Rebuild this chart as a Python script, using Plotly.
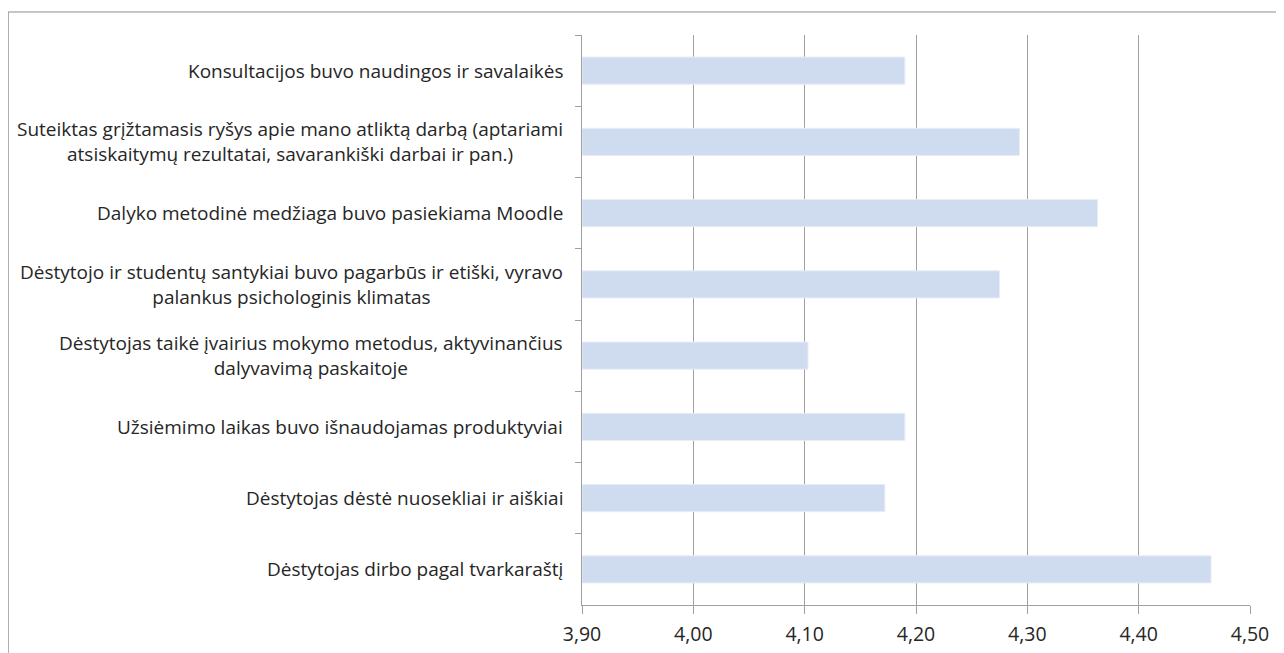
import plotly.graph_objects as go

categories = [
    "Konsultacijos buvo naudingos ir savalaikės",
    "Suteiktas grįžtamasis ryšys apie mano atliktą darbą (aptariami<br>atsiskaitymų rezultatai, savarankiški darbai ir pan.)",
    "Dalyko metodinė medžiaga buvo pasiekiama Moodle",
    "Dėstytojo ir studentų santykiai buvo pagarbūs ir etiški, vyravo<br>palankus psichologinis klimatas",
    "Dėstytojas taikė įvairius mokymo metodus, aktyvinančius<br>dalyvavimą paskaitoje",
    "Užsiėmimo laikas buvo išnaudojamas produktyviai",
    "Dėstytojas dėstė nuosekliai ir aiškiai",
    "Dėstytojas dirbo pagal tvarkaraštį",
]
values = [4.19, 4.293, 4.363, 4.275, 4.103, 4.19, 4.172, 4.465]
x_ticks = [3.90, 4.00, 4.10, 4.20, 4.30, 4.40, 4.50]
axis_min = 3.90

FONT = "Open Sans"
FS = 19
FS_TICK = 19.5
TXT = "#262626"
GRID = "#a0a0a0"

fig = go.Figure()
fig.add_trace(go.Bar(
    y=categories, x=[v - axis_min for v in values], base=axis_min,
    orientation="h",
    marker=dict(color="#cfdbee", line=dict(color="#e6edf7", width=1)),
    hoverinfo="skip",
))

for c in categories:
    fig.add_annotation(
        x=0, xref="paper", y=c, yref="y", text=c, showarrow=False,
        xanchor="right", xshift=-17, align="center",
        font=dict(family=FONT, size=FS, color=TXT),
    )

fig.add_shape(type="rect", xref="paper", yref="paper",
              x0=-0.859, x1=1.3, y0=-0.3, y1=1.0404,
              line=dict(color="#8c8c8c", width=1), fillcolor="rgba(0,0,0,0)", layer="below")

fig.update_layout(
    width=1284, height=653,
    margin=dict(l=574, r=42, t=27, b=56),
    plot_bgcolor="white", paper_bgcolor="white",
    separators=", ",
    bargap=0.62,
    showlegend=False,
    font=dict(family=FONT, size=FS, color=TXT),
)
fig.update_xaxes(
    range=[3.9, 4.5], tickvals=x_ticks, tickformat=".2f",
    showgrid=True, gridcolor=GRID, gridwidth=1,
    showline=True, linecolor=GRID, linewidth=1,
    ticks="outside", ticklen=8, tickcolor=GRID,
    ticklabelstandoff=4,
    tickfont=dict(family=FONT, size=FS_TICK, color=TXT),
    zeroline=False, fixedrange=True,
)
fig.update_yaxes(
    categoryorder="array", categoryarray=categories, autorange="reversed",
    showticklabels=False, tickson="boundaries",
    ticks="outside", ticklen=6, tickcolor=GRID,
    showline=True, linecolor=GRID, linewidth=1,
    showgrid=False, fixedrange=True,
)

fig.write_html("out.html")
